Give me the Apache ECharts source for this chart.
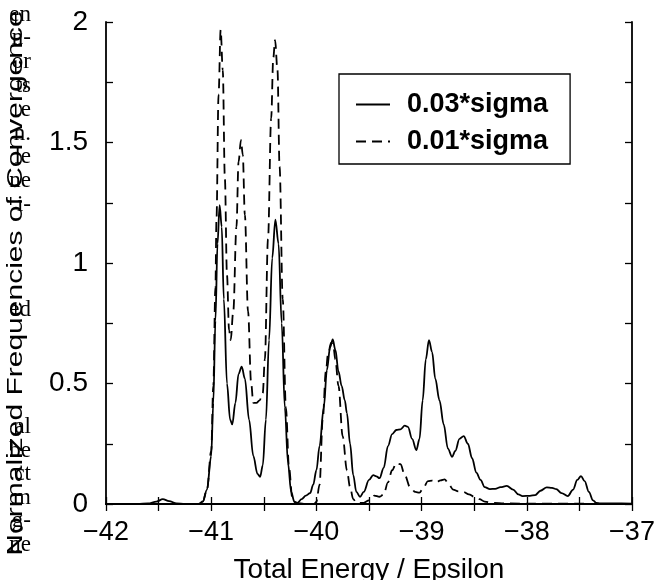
<!DOCTYPE html>
<html>
<head>
<meta charset="utf-8">
<script src="https://cdn.jsdelivr.net/npm/echarts@6/dist/echarts.min.js"></script>
<style>
html,body{margin:0;padding:0;background:#fff;}
#chart{width:654px;height:580px;}
</style>
</head>
<body>
<div id="chart"></div>
<script>
// Series names
const seriesNames = ['0.03*sigma', '0.01*sigma'];

// 0.03*sigma (solid)
const solidX = [-42, -41.7, -41.6, -41.52, -41.46, -41.4, -41.33, -41.25, -41.12, -41.08, -41.04, -41.0, -40.98, -40.96, -40.94, -40.92, -40.9, -40.88, -40.85, -40.82, -40.8, -40.77, -40.74, -40.71, -40.68, -40.64, -40.6, -40.56, -40.535, -40.51, -40.48, -40.45, -40.42, -40.39, -40.36, -40.33, -40.3, -40.27, -40.24, -40.21, -40.18, -40.14, -40.1, -40.06, -40.03, -40.0, -39.97, -39.93, -39.9, -39.87, -39.845, -39.82, -39.79, -39.76, -39.73, -39.71, -39.68, -39.65, -39.62, -39.585, -39.55, -39.5, -39.46, -39.43, -39.4, -39.36, -39.32, -39.28, -39.24, -39.2, -39.16, -39.13, -39.09, -39.05, -39.02, -38.99, -38.96, -38.93, -38.9, -38.87, -38.83, -38.79, -38.75, -38.71, -38.68, -38.64, -38.6, -38.56, -38.52, -38.48, -38.44, -38.4, -38.35, -38.3, -38.25, -38.19, -38.13, -38.08, -38.04, -37.97, -37.92, -37.87, -37.81, -37.76, -37.72, -37.67, -37.61, -37.56, -37.52, -37.485, -37.45, -37.41, -37.37, -37.34, -37.3, -37.2, -37.1, -37.0];
const solidY = [0, 0, 0.002, 0.01, 0.02, 0.012, 0.002, 0, 0, 0.01, 0.06, 0.2, 0.42, 0.76, 1.08, 1.24, 1.15, 0.85, 0.5, 0.35, 0.33, 0.42, 0.54, 0.57, 0.52, 0.35, 0.2, 0.125, 0.113, 0.16, 0.35, 0.68, 1.02, 1.18, 1.08, 0.75, 0.4, 0.17, 0.05, 0.01, 0.005, 0.02, 0.035, 0.045, 0.08, 0.14, 0.24, 0.4, 0.556, 0.65, 0.683, 0.64, 0.55, 0.49, 0.43, 0.377, 0.25, 0.12, 0.05, 0.03, 0.05, 0.1, 0.12, 0.115, 0.107, 0.15, 0.24, 0.29, 0.307, 0.31, 0.325, 0.32, 0.27, 0.224, 0.27, 0.43, 0.6, 0.68, 0.63, 0.52, 0.43, 0.33, 0.23, 0.196, 0.22, 0.27, 0.282, 0.25, 0.19, 0.13, 0.1, 0.07, 0.062, 0.063, 0.07, 0.075, 0.06, 0.04, 0.033, 0.034, 0.037, 0.055, 0.069, 0.067, 0.062, 0.045, 0.033, 0.06, 0.1, 0.116, 0.095, 0.05, 0.015, 0.005, 0.002, 0.003, 0.003, 0.001];

// 0.01*sigma (dashed)
const dashedX = [-42, -41.15, -41.08, -41.04, -41.0, -40.98, -40.96, -40.95, -40.93, -40.91, -40.89, -40.87, -40.85, -40.83, -40.815, -40.79, -40.76, -40.74, -40.717, -40.7, -40.68, -40.65, -40.62, -40.6, -40.57, -40.54, -40.51, -40.49, -40.46, -40.43, -40.41, -40.393, -40.37, -40.35, -40.32, -40.29, -40.26, -40.23, -40.2, -40.1, -40.02, -40.0, -39.97, -39.94, -39.91, -39.89, -39.86, -39.84, -39.82, -39.79, -39.75, -39.71, -39.68, -39.65, -39.62, -39.55, -39.5, -39.45, -39.4, -39.36, -39.32, -39.28, -39.24, -39.2, -39.16, -39.11, -39.06, -39.02, -38.98, -38.94, -38.9, -38.86, -38.82, -38.78, -38.74, -38.7, -38.65, -38.6, -38.55, -38.5, -38.45, -38.4, -38.33, -38.2, -37.0];
const dashedY = [0, 0, 0.01, 0.06, 0.22, 0.49, 0.9, 1.18, 1.7, 1.967, 1.8, 1.35, 0.95, 0.72, 0.68, 0.8, 1.15, 1.42, 1.51, 1.45, 1.2, 0.8, 0.5, 0.42, 0.42, 0.43, 0.46, 0.6, 1.1, 1.6, 1.85, 1.925, 1.8, 1.4, 0.85, 0.4, 0.15, 0.03, 0.005, 0, 0, 0.01, 0.08, 0.35, 0.55, 0.62, 0.67, 0.66, 0.6, 0.49, 0.28, 0.14, 0.07, 0.02, 0.005, 0.005, 0.015, 0.035, 0.03, 0.04, 0.09, 0.14, 0.17, 0.165, 0.12, 0.07, 0.05, 0.047, 0.07, 0.095, 0.097, 0.09, 0.098, 0.102, 0.08, 0.06, 0.052, 0.05, 0.04, 0.03, 0.02, 0.01, 0.005, 0.002, 0];

// Axis ranges / ticks
const xMin = -42, xMax = -37, xStep = 1;
const yMin = 0, yMax = 2, yStep = 0.5;
const xTitle = 'Total Energy / Epsilon';
const yTitle = 'Normalized Frequencies of Convergence';

// Clipped words of neighbouring page text visible at the left edge
const marginFragments = ['en', 'n-', 'or', 'ts', 'e', 'n.', 'le', 'ne', 'i-', 'ed', 'al', 'be', 'ct', 'm', 'g-', 'ne'];
const marginFragmentRows = [15, 38, 62, 86, 110, 134, 157, 181, 205, 310, 427, 451, 474, 498, 521, 545];

const font = 'Liberation Sans, Arial, Helvetica, sans-serif';
const serif = 'Liberation Serif, DejaVu Serif, serif';
const zip = (xs, ys) => xs.map((x, i) => [x, ys[i]]);
const fmt = v => (v < 0 ? '\u2212' + Math.abs(v) : String(v));

const chart = echarts.init(document.getElementById('chart'), null, {renderer: 'canvas'});
const baseAxis = {
  axisLine: {show: true, lineStyle: {color: '#000', width: 1.8}},
  axisTick: {show: true, inside: true, length: 7, lineStyle: {color: '#000', width: 1.3}},
  minorTick: {show: true, splitNumber: 2, length: 7, lineStyle: {color: '#000', width: 1.3}},
  splitLine: {show: false}
};

const fragmentGraphics = marginFragments.map((t, i) => ({
  type: 'text', x: 31, y: marginFragmentRows[i], z: 0, silent: true,
  style: {text: t, fill: '#000', font: '23px ' + serif, textAlign: 'right', textVerticalAlign: 'middle'}
}));

chart.setOption({
  animation: false,
  backgroundColor: '#fff',
  grid: {left: 106, right: 22, top: 22, bottom: 76, show: false, containLabel: false, outerBoundsMode: 'none'},
  graphic: fragmentGraphics.concat([{
    type: 'text', x: 16, y: 283, rotation: Math.PI / 2, scaleY: 0.74, z: 10, silent: true,
    style: {text: yTitle, fill: '#000', font: '30px ' + font, textAlign: 'center', textVerticalAlign: 'middle'}
  }]),
  xAxis: [
    Object.assign({}, baseAxis, {
      type: 'value', min: xMin, max: xMax, interval: xStep, position: 'bottom',
      name: xTitle, nameLocation: 'middle', nameGap: 52,
      nameTextStyle: {fontFamily: font, fontSize: 28, color: '#000'},
      axisLabel: {formatter: fmt, fontFamily: font, fontSize: 27, color: '#000', margin: 15}
    }),
    Object.assign({}, baseAxis, {
      type: 'value', min: xMin, max: xMax, interval: xStep, position: 'top',
      axisLabel: {show: false}
    })
  ],
  yAxis: [
    Object.assign({}, baseAxis, {
      type: 'value', min: yMin, max: yMax, interval: yStep, position: 'left',
      axisLabel: {formatter: v => String(v), fontFamily: font, fontSize: 28, color: '#000', margin: 18}
    }),
    Object.assign({}, baseAxis, {
      type: 'value', min: yMin, max: yMax, interval: yStep, position: 'right',
      axisLabel: {show: false}
    })
  ],
  legend: {
    show: true, orient: 'vertical', left: 339, top: 74,
    backgroundColor: '#fff', borderColor: '#000', borderWidth: 1.3, borderRadius: 0,
    padding: [17, 22, 9, 16], itemGap: 10, itemWidth: 34, itemHeight: 24,
    itemStyle: {color: 'rgba(0,0,0,0)', borderColor: 'rgba(0,0,0,0)', borderWidth: 0},
    textStyle: {fontFamily: font, fontSize: 27, fontWeight: 'bold', color: '#000', padding: [0, 0, 0, 12]},
    data: seriesNames
  },
  series: [
    {
      name: seriesNames[0], type: 'line', data: zip(solidX, solidY),
      symbol: 'none', smooth: 0.35, smoothMonotone: 'x',
      lineStyle: {color: '#000', width: 1.8, type: 'solid'}, itemStyle: {color: '#000'}
    },
    {
      name: seriesNames[1], type: 'line', data: zip(dashedX, dashedY),
      symbol: 'none', smooth: 0.35, smoothMonotone: 'x',
      lineStyle: {color: '#000', width: 1.8, type: [10, 6]}, itemStyle: {color: '#000'}
    }
  ]
});
</script>
</body>
</html>
